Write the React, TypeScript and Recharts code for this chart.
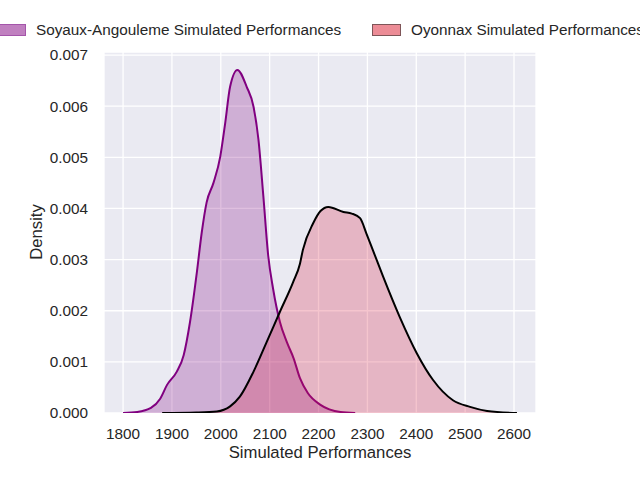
import { Area, CartesianGrid, ComposedChart, XAxis, YAxis } from "recharts";

// Soyaux-Angouleme KDE (performance, density)
const soyauxX = [
  1800, 1829, 1857, 1876, 1890, 1910, 1924, 1937, 1951, 1961, 1971, 1985,
  1999, 2009, 2019, 2034, 2053, 2067, 2077, 2087, 2097, 2107, 2121, 2135,
  2149, 2162, 2178, 2204, 2245, 2275,
];
const soyauxDensity = [
  0.0, 0.00002, 0.0001, 0.00028, 0.00055, 0.00081, 0.00113, 0.00178,
  0.00275, 0.00353, 0.00412, 0.0045, 0.00502, 0.00567, 0.00638, 0.00671,
  0.00638, 0.00599, 0.00535, 0.00425, 0.00308, 0.00243, 0.00178, 0.00139,
  0.00107, 0.00068, 0.00039, 0.00016, 0.00002, 0.0,
];

// Oyonnax KDE (performance, density)
const oyonnaxX = [
  1880, 1950, 1992, 2019, 2039, 2067, 2094, 2121, 2148, 2162, 2168, 2189,
  2204, 2220, 2251, 2268, 2285, 2298, 2311, 2332, 2366, 2401, 2434, 2475,
  2510, 2545, 2606,
];
const oyonnaxDensity = [
  0.0, 0.00001, 0.00003, 0.00013, 0.00032, 0.00081, 0.00139, 0.00198,
  0.00256, 0.00292, 0.00319, 0.00371, 0.00395, 0.00403, 0.00393, 0.0039,
  0.00381, 0.00351, 0.00319, 0.00267, 0.00188, 0.00117, 0.00065, 0.00025,
  0.00012, 0.00004, 0.0,
];

const xTicks = [1800, 1900, 2000, 2100, 2200, 2300, 2400, 2500, 2600];
const yTicks = [0, 0.001, 0.002, 0.003, 0.004, 0.005, 0.006, 0.007];

const soyauxData = soyauxX.map((x, i) => ({ x, y: soyauxDensity[i] }));
const oyonnaxData = oyonnaxX.map((x, i) => ({ x, y: oyonnaxDensity[i] }));

const FONT = "'Liberation Sans', Arial, sans-serif";
const TEXT = "#262626";

export default function App() {
  return (
    <div
      style={{
        position: "absolute",
        left: 0,
        top: 0,
        width: 640,
        height: 480,
        overflow: "hidden",
        background: "#fff",
        fontFamily: FONT,
        color: TEXT,
      }}
    >
      <ComposedChart
        width={640}
        height={480}
        margin={{ top: 52, right: 104, bottom: 37, left: 44 }}
      >
        <CartesianGrid fill="#EAEAF2" stroke="#ffffff" strokeWidth={1.3} />
        <XAxis
          type="number"
          dataKey="x"
          domain={[1761, 2645]}
          ticks={xTicks}
          allowDataOverflow
          axisLine={false}
          tickLine={false}
          tickMargin={9}
          height={30}
          tick={{ fill: TEXT, fontSize: 15.3, fontFamily: FONT }}
        />
        <YAxis
          type="number"
          domain={[0, 0.00706]}
          ticks={yTicks}
          allowDataOverflow
          axisLine={false}
          tickLine={false}
          tickMargin={10}
          width={60}
          tickFormatter={(v) => Number(v).toFixed(3)}
          tick={{ fill: TEXT, fontSize: 15.3, fontFamily: FONT }}
        />
        <Area
          data={soyauxData}
          dataKey="y"
          type="monotone"
          stroke="#800080"
          strokeWidth={2}
          fill="#800080"
          fillOpacity={0.25}
          isAnimationActive={false}
        />
        <Area
          data={oyonnaxData}
          dataKey="y"
          type="monotone"
          stroke="#000000"
          strokeWidth={2}
          fill="#D8183A"
          fillOpacity={0.25}
          isAnimationActive={false}
        />
      </ComposedChart>

      {/* legend, placed above the axes like the original (runs off the right edge) */}
      <div style={{ position: "absolute", left: -3, top: 24, width: 27, height: 10, background: "#C080C0", border: "1px solid #A455AA" }} />
      <div style={{ position: "absolute", left: 36, top: 21, fontSize: 15.3, whiteSpace: "nowrap" }}>
        Soyaux-Angouleme Simulated Performances
      </div>
      <div style={{ position: "absolute", left: 372, top: 24, width: 27, height: 10, background: "#EC8C96", border: "1px solid #7E5558" }} />
      <div style={{ position: "absolute", left: 411, top: 21, fontSize: 15.3, whiteSpace: "nowrap" }}>
        Oyonnax Simulated Performances
      </div>

      <div style={{ position: "absolute", left: 104, width: 432, top: 443, textAlign: "center", fontSize: 16.7 }}>
        Simulated Performances
      </div>
      <div
        style={{
          position: "absolute",
          left: 37,
          top: 232,
          fontSize: 16.7,
          transform: "translate(-50%, -50%) rotate(-90deg)",
          whiteSpace: "nowrap",
        }}
      >
        Density
      </div>
    </div>
  );
}
